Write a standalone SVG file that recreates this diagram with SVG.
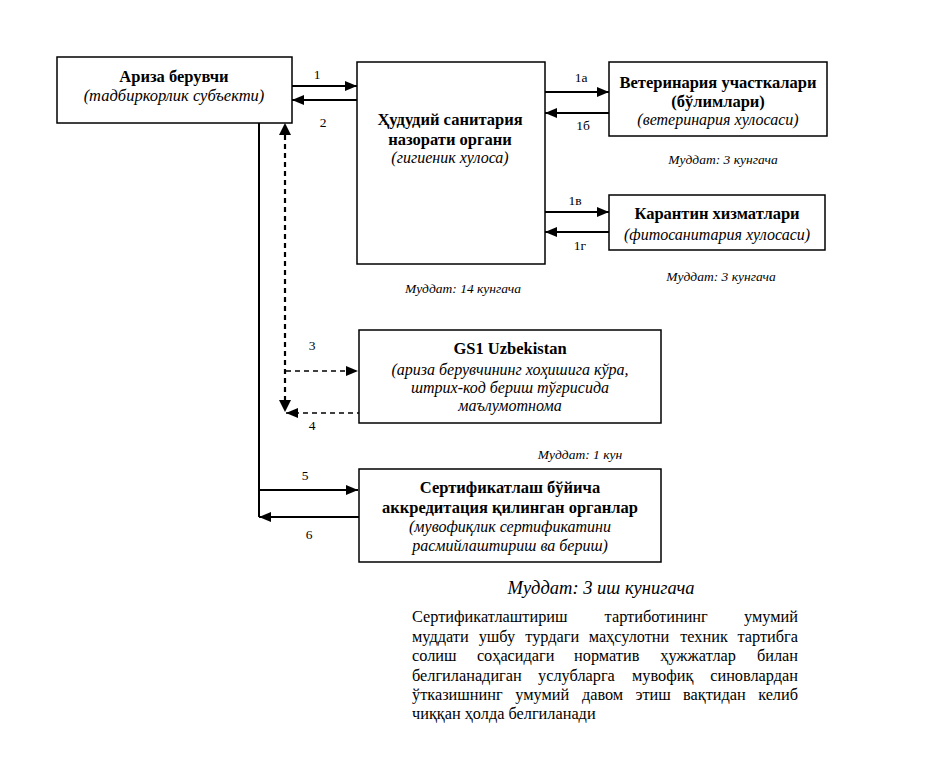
<svg xmlns="http://www.w3.org/2000/svg" width="933" height="774" viewBox="0 0 933 774">
<style>
.box{fill:#fff;stroke:#000;stroke-width:1.5}
.s{fill:none;stroke:#000;stroke-width:2}
.d{fill:none;stroke:#000;stroke-width:1.5;stroke-dasharray:5 4}
.dv{fill:none;stroke:#000;stroke-width:2.2;stroke-dasharray:5 4}
</style>
<defs>
<marker id="ah" markerUnits="userSpaceOnUse" markerWidth="12" markerHeight="10" refX="12" refY="5" orient="auto">
<path d="M0,0 L12,5 L0,10 Z" fill="#000"/>
</marker>
</defs>
<rect width="933" height="774" fill="#fff"/>

<g id="connectors">
<line class="s" x1="292" y1="86" x2="357" y2="86" marker-end="url(#ah)"/>
<line class="s" x1="357" y1="100" x2="292" y2="100" marker-end="url(#ah)"/>
<line class="s" x1="545" y1="92" x2="609" y2="92" marker-end="url(#ah)"/>
<line class="s" x1="609" y1="113" x2="545" y2="113" marker-end="url(#ah)"/>
<line class="s" x1="545" y1="212" x2="609" y2="212" marker-end="url(#ah)"/>
<line class="s" x1="609" y1="232" x2="545" y2="232" marker-end="url(#ah)"/>
<line class="dv" x1="285" y1="135" x2="285" y2="400"/>
<path d="M279,135 L285,123 L291,135 Z" fill="#000"/>
<path d="M279,400 L285,412 L291,400 Z" fill="#000"/>
<line class="d" x1="286" y1="371" x2="358" y2="371" marker-end="url(#ah)"/>
<line class="d" x1="362" y1="413" x2="286" y2="413" marker-end="url(#ah)"/>
<polyline class="s" points="259,123 259,517"/>
<line class="s" x1="259" y1="490" x2="358" y2="490" marker-end="url(#ah)"/>
<line class="s" x1="359" y1="517" x2="259" y2="517" marker-end="url(#ah)"/>
<text font-family="Liberation Serif" font-size="13.5" text-anchor="middle" x="317" y="79">1</text>
<text font-family="Liberation Serif" font-size="13.5" text-anchor="middle" x="323" y="127">2</text>
<text font-family="Liberation Serif" font-size="13.5" text-anchor="middle" x="581" y="82">1a</text>
<text font-family="Liberation Serif" font-size="13.5" text-anchor="middle" x="583" y="130">1б</text>
<text font-family="Liberation Serif" font-size="13.5" text-anchor="middle" x="575" y="205">1в</text>
<text font-family="Liberation Serif" font-size="13.5" text-anchor="middle" x="580" y="250">1г</text>
<text font-family="Liberation Serif" font-size="13.5" text-anchor="middle" x="312" y="350">3</text>
<text font-family="Liberation Serif" font-size="13.5" text-anchor="middle" x="312" y="430">4</text>
<text font-family="Liberation Serif" font-size="13.5" text-anchor="middle" x="305" y="480">5</text>
<text font-family="Liberation Serif" font-size="13.5" text-anchor="middle" x="309" y="539">6</text>
</g>

<g id="ariza">
<rect class="box" x="57" y="57" width="235" height="66"/>
<text font-family="Liberation Serif" font-weight="bold" font-size="16.5" text-anchor="middle" x="174" y="82">Ариза берувчи</text>
<text font-family="Liberation Serif" font-style="italic" font-size="16.5" text-anchor="middle" x="174" y="101">(тадбиркорлик субъекти)</text>
</g>

<g id="sanitaria">
<rect class="box" x="357" y="62" width="188" height="202"/>
<text font-family="Liberation Serif" font-weight="bold" font-size="16.5" text-anchor="middle" x="450" y="125">Ҳудудий санитария</text>
<text font-family="Liberation Serif" font-weight="bold" font-size="16.5" text-anchor="middle" x="450" y="145">назорати органи</text>
<text font-family="Liberation Serif" font-style="italic" font-size="16" text-anchor="middle" x="450" y="163">(гигиеник хулоса)</text>
<text font-family="Liberation Serif" font-style="italic" font-size="13.5" text-anchor="middle" x="463" y="293">Муддат: 14 кунгача</text>
</g>

<g id="veterinaria">
<rect class="box" x="609" y="62" width="218" height="74"/>
<text font-family="Liberation Serif" font-weight="bold" font-size="16.5" text-anchor="middle" x="718" y="88">Ветеринария участкалари</text>
<text font-family="Liberation Serif" font-weight="bold" font-size="16.5" text-anchor="middle" x="718" y="107">(бўлимлари)</text>
<text font-family="Liberation Serif" font-style="italic" font-size="16" text-anchor="middle" x="718" y="125">(ветеринария хулосаси)</text>
<text font-family="Liberation Serif" font-style="italic" font-size="13.5" text-anchor="middle" x="723" y="164">Муддат: 3 кунгача</text>
</g>

<g id="karantin">
<rect class="box" x="609" y="195" width="216" height="55"/>
<text font-family="Liberation Serif" font-weight="bold" font-size="16.5" text-anchor="middle" x="717" y="219">Карантин хизматлари</text>
<text font-family="Liberation Serif" font-style="italic" font-size="16" text-anchor="middle" x="717" y="240">(фитосанитария хулосаси)</text>
<text font-family="Liberation Serif" font-style="italic" font-size="13.5" text-anchor="middle" x="721" y="281">Муддат: 3 кунгача</text>
</g>

<g id="gs1">
<rect class="box" x="359" y="330" width="302" height="93"/>
<text font-family="Liberation Serif" font-weight="bold" font-size="16.5" text-anchor="middle" x="510" y="354">GS1 Uzbekistan</text>
<text font-family="Liberation Serif" font-style="italic" font-size="16" text-anchor="middle" x="510" y="375">(ариза берувчининг хоҳишига кўра,</text>
<text font-family="Liberation Serif" font-style="italic" font-size="16" text-anchor="middle" x="510" y="393">штрих-код бериш тўғрисида</text>
<text font-family="Liberation Serif" font-style="italic" font-size="16" text-anchor="middle" x="510" y="411">маълумотнома</text>
<text font-family="Liberation Serif" font-style="italic" font-size="13.5" text-anchor="middle" x="580" y="459">Муддат: 1 кун</text>
</g>

<g id="sertifikat">
<rect class="box" x="359" y="469" width="302" height="93"/>
<text font-family="Liberation Serif" font-weight="bold" font-size="16.5" text-anchor="middle" x="510" y="493">Сертификатлаш бўйича</text>
<text font-family="Liberation Serif" font-weight="bold" font-size="16.5" text-anchor="middle" x="510" y="513">аккредитация қилинган органлар</text>
<text font-family="Liberation Serif" font-style="italic" font-size="16" text-anchor="middle" x="510" y="532">(мувофиқлик сертификатини</text>
<text font-family="Liberation Serif" font-style="italic" font-size="16" text-anchor="middle" x="510" y="551">расмийлаштириш ва бериш)</text>
</g>

<g id="note">
<text font-family="Liberation Serif" font-style="italic" font-size="18.5" text-anchor="middle" x="601" y="594">Муддат: 3 иш кунигача</text>
<text font-family="Liberation Serif" font-size="16.3" y="622"><tspan x="412">Сертификатлаштириш</tspan><tspan x="604.6">тартиботининг</tspan></text>
<text font-family="Liberation Serif" font-size="16.3" text-anchor="end" x="798" y="622">умумий</text>
<text font-family="Liberation Serif" font-size="16.3" y="642"><tspan x="412">муддати</tspan><tspan x="478.7">ушбу</tspan><tspan x="525.3">турдаги</tspan><tspan x="588.7">маҳсулотни</tspan><tspan x="680.2">техник</tspan></text>
<text font-family="Liberation Serif" font-size="16.3" text-anchor="end" x="798" y="642">тартибга</text>
<text font-family="Liberation Serif" font-size="16.3" y="661"><tspan x="412">солиш</tspan><tspan x="476.9">соҳасидаги</tspan><tspan x="574.1">норматив</tspan><tspan x="660.3">ҳужжатлар</tspan></text>
<text font-family="Liberation Serif" font-size="16.3" text-anchor="end" x="798" y="661">билан</text>
<text font-family="Liberation Serif" font-size="16.3" y="681"><tspan x="412">белгиланадиган</tspan><tspan x="538.1">услубларга</tspan><tspan x="632">мувофиқ</tspan></text>
<text font-family="Liberation Serif" font-size="16.3" text-anchor="end" x="798" y="681">синовлардан</text>
<text font-family="Liberation Serif" font-size="16.3" y="700"><tspan x="412">ўтказишнинг</tspan><tspan x="515.3">умумий</tspan><tspan x="581.9">давом</tspan><tspan x="635.4">этиш</tspan><tspan x="683.1">вақтидан</tspan></text>
<text font-family="Liberation Serif" font-size="16.3" text-anchor="end" x="798" y="700">келиб</text>
<text font-family="Liberation Serif" font-size="16.3" x="412" y="719">чиққан ҳолда белгиланади</text>
</g>
</svg>
